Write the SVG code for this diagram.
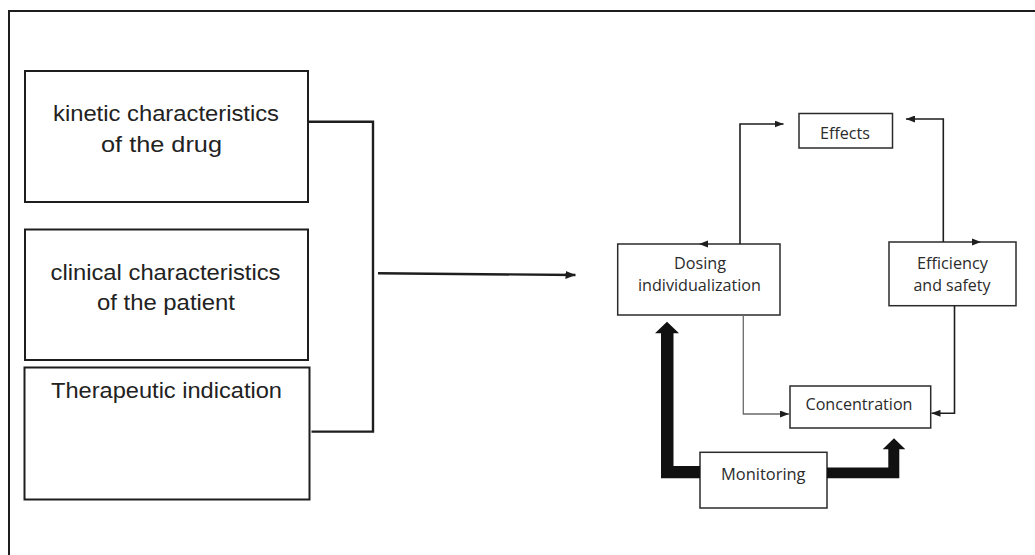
<svg xmlns="http://www.w3.org/2000/svg" width="1035" height="555" viewBox="0 0 1035 555">
  <defs>
    <style>
      .frame { fill: none; stroke: #1e1e1e; stroke-width: 2; }
      .lbox { fill: #ffffff; stroke: #1e1e1e; stroke-width: 2; }
      .rbox { fill: #ffffff; stroke: #2b2b2b; stroke-width: 1.5; }
      .ltxt { font-family: "Liberation Sans", Arial, sans-serif; font-size: 22px; fill: #222222; text-anchor: middle; }
      .rtxt { font-family: "Open Sans", "Noto Sans", sans-serif; font-size: 16px; fill: #2b2b2b; text-anchor: middle; }
      .line { fill: none; stroke: #1e1e1e; stroke-width: 1.6; }
      .gline { fill: none; stroke: #6a6a6a; stroke-width: 1.3; }
      .bline { fill: none; stroke: #1e1e1e; stroke-width: 2.4; }
      .head { fill: #1e1e1e; }
      .thick { fill: #111111; }
    </style>
    <marker id="ah" viewBox="0 0 10 8" refX="10" refY="4" markerWidth="10" markerHeight="8" markerUnits="userSpaceOnUse" orient="auto">
      <path d="M0,0 L10,4 L0,8 Z" fill="#1e1e1e"/>
    </marker>
    <marker id="ahs" viewBox="0 0 9 7" refX="9" refY="3.5" markerWidth="9" markerHeight="7" markerUnits="userSpaceOnUse" orient="auto">
      <path d="M0,0 L9,3.5 L0,7 Z" fill="#1e1e1e"/>
    </marker>
  </defs>

  <rect width="1035" height="555" fill="#ffffff"/>
  <path class="frame" d="M9,555 V11 H1035"/>

  <g id="node-kinetic">
    <rect class="lbox" x="25" y="71" width="283" height="131"/>
    <text class="ltxt" x="166" y="121" textLength="226" lengthAdjust="spacingAndGlyphs">kinetic characteristics</text>
    <text class="ltxt" x="161.5" y="151.5" textLength="121" lengthAdjust="spacingAndGlyphs">of the drug</text>
  </g>

  <g id="node-clinical">
    <rect class="lbox" x="25" y="229.5" width="283" height="130.5"/>
    <text class="ltxt" x="165.5" y="280" textLength="230" lengthAdjust="spacingAndGlyphs">clinical characteristics</text>
    <text class="ltxt" x="166" y="310" textLength="138" lengthAdjust="spacingAndGlyphs">of the patient</text>
  </g>

  <g id="node-therapeutic">
    <rect class="lbox" x="24.5" y="367.5" width="285" height="132"/>
    <text class="ltxt" x="166.5" y="398" textLength="231" lengthAdjust="spacingAndGlyphs">Therapeutic indication</text>
  </g>

  <g id="node-effects">
    <rect class="rbox" x="799" y="113.5" width="93.5" height="34.5"/>
    <text class="rtxt" x="845" y="139" textLength="50" lengthAdjust="spacingAndGlyphs">Effects</text>
  </g>

  <g id="node-dosing">
    <rect class="rbox" x="617.7" y="244" width="162.3" height="71"/>
    <text class="rtxt" x="700" y="268.5" textLength="52" lengthAdjust="spacingAndGlyphs">Dosing</text>
    <text class="rtxt" x="699.5" y="290.5" textLength="123" lengthAdjust="spacingAndGlyphs">individualization</text>
  </g>

  <g id="node-efficiency">
    <rect class="rbox" x="889" y="242" width="127" height="63.7"/>
    <text class="rtxt" x="952.5" y="268.5" textLength="71" lengthAdjust="spacingAndGlyphs">Efficiency</text>
    <text class="rtxt" x="952" y="290.5" textLength="77" lengthAdjust="spacingAndGlyphs">and safety</text>
  </g>

  <g id="node-concentration">
    <rect class="rbox" x="790" y="386" width="140.7" height="42"/>
    <text class="rtxt" x="859" y="410" textLength="107" lengthAdjust="spacingAndGlyphs">Concentration</text>
  </g>

  <g id="node-monitoring">
    <rect class="rbox" x="700" y="452.3" width="127" height="55.7"/>
    <text class="rtxt" x="763.3" y="480" textLength="84.5" lengthAdjust="spacingAndGlyphs">Monitoring</text>
  </g>

  <g id="connectors">
    <!-- bracket joining the three factors -->
    <path class="bline" d="M308,121.7 H373 V431.6 H311.5"/>
    <path class="bline" d="M378,273.3 L575.5,275" marker-end="url(#ah)"/>

    <!-- Dosing -> Effects -->
    <path class="line" d="M740,244 V124 H783.5" marker-end="url(#ahs)"/>
    <polygon class="head" points="699,244 708,240.5 708,247.5"/>

    <!-- Efficiency -> Effects -->
    <path class="line" d="M943.3,242 V119 H906" marker-end="url(#ahs)"/>
    <polygon class="head" points="981,242 972,238.5 972,245.5"/>

    <!-- Dosing -> Concentration (grey) -->
    <path class="gline" d="M743.3,315 V414 H789" marker-end="url(#ahs)"/>

    <!-- Efficiency -> Concentration -->
    <path class="line" d="M954.5,305.7 V413.3 H931.5" marker-end="url(#ahs)"/>

    <!-- Monitoring thick arrows -->
    <polygon class="thick" points="700,466 673.5,466 673.5,333.3 679,333.3 667,321.7 655,333.3 661,333.3 661,478.3 700,478.3"/>
    <polygon class="thick" points="827,467.5 888.3,467.5 888.3,449.3 882.7,449.3 894,438.3 905.3,449.3 899.3,449.3 899.3,478.3 827,478.3"/>
  </g>
</svg>
